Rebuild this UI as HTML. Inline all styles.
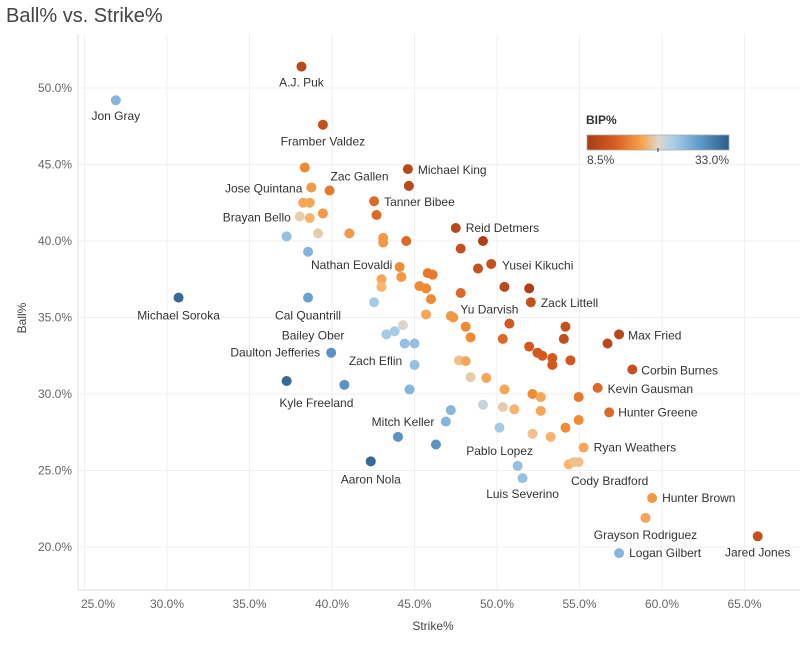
<!DOCTYPE html>
<html><head><meta charset="utf-8"><style>
body{margin:0;background:#fff;font-family:"Liberation Sans",sans-serif;}
svg text{font-family:"Liberation Sans",sans-serif;}
</style></head><body>
<svg id="chart" width="807" height="642">
<text x="6" y="22" font-size="20" fill="#444">Ball% vs. Strike%</text>
<g id="grid"></g><g id="axes"></g><g id="pts"></g><g id="lbls"></g>
<text x="433" y="630" font-size="12" fill="#444" text-anchor="middle">Strike%</text>
<text x="26" y="318" font-size="12" fill="#444" text-anchor="middle" transform="rotate(-90 26 318)">Ball%</text>
<g>
<defs><linearGradient id="lg" x1="0" x2="1"><stop offset="0" stop-color="#a83c17"/><stop offset="0.2" stop-color="#d85e1f"/><stop offset="0.38" stop-color="#f7a04a"/><stop offset="0.5" stop-color="#e0d6c8"/><stop offset="0.6" stop-color="#acd0e8"/><stop offset="0.8" stop-color="#5f98c9"/><stop offset="1" stop-color="#2b5c8a"/></linearGradient></defs>
<text x="586" y="124" font-size="12" font-weight="bold" fill="#333">BIP%</text>
<rect x="587" y="135" width="142" height="15" fill="url(#lg)" stroke="#aaa" stroke-width="0.8"/>
<line x1="658" y1="148" x2="658" y2="152" stroke="#333"/>
<text x="587" y="164" font-size="12" fill="#444">8.5%</text>
<text x="729" y="164" font-size="12" fill="#444" text-anchor="end">33.0%</text>
</g>
</svg>
<script>
const xTicks=[25,30,35,40,45,50,55,60,65];
const yTicks=[20,25,30,35,40,45,50];
const strike=[38.15,26.9,39.45,38.35,44.6,44.66,38.75,39.85,38.25,38.65,42.55,39.45,42.7,38.05,38.65,37.25,39.15,41.05,43.1,43.1,44.5,47.5,49.15,47.8,44.1,45.8,46.1,44.2,49.65,48.85,43.0,43.0,45.3,45.7,47.8,50.45,51.95,52.05,38.55,38.55,30.7,42.55,46.0,45.7,47.2,47.35,50.75,44.3,48.1,54.15,57.4,56.7,43.3,43.8,44.4,45.0,48.4,50.35,51.95,52.45,52.75,53.35,53.35,54.45,54.05,58.2,39.95,45.0,47.7,48.1,48.4,49.35,37.25,40.75,44.7,50.45,52.15,52.65,54.95,56.1,49.15,50.35,51.05,52.65,56.8,47.2,46.9,50.15,44.0,52.15,53.25,54.15,54.95,46.3,55.25,42.35,51.25,51.55,54.35,54.65,54.95,59.4,59.0,57.4,65.8];
const ball=[51.4,49.2,47.6,44.8,44.7,43.6,43.5,43.3,42.5,42.5,42.6,41.8,41.7,41.6,41.5,40.3,40.5,40.5,40.2,39.9,40.0,40.85,40.0,39.5,38.3,37.9,37.8,37.65,38.5,38.2,37.5,37.0,37.05,36.9,36.6,37.0,36.9,36.0,39.3,36.3,36.3,36.0,36.2,35.2,35.1,35.0,34.6,34.5,34.4,34.4,33.9,33.3,33.9,34.1,33.3,33.3,33.7,33.6,33.1,32.7,32.5,32.35,31.9,32.2,33.6,31.6,32.7,31.9,32.2,32.15,31.1,31.05,30.85,30.6,30.3,30.3,30.0,29.8,29.8,30.4,29.3,29.15,29.0,28.9,28.8,28.95,28.2,27.8,27.2,27.4,27.2,27.8,28.3,26.7,26.5,25.6,25.3,24.5,25.4,25.55,25.55,23.2,21.9,19.6,20.7];
const bip=[10,26,11,15,10,10,16,14,17,17,13,16,13,20,18,25,20,16,16,16,13,10,9,11,15,14,14,16,11,11,17,18,15,15,13,10,9,11,26,28,32,24,15,17,16,16,12,21,15,11,10,10,24,24,25,25,15,13,12,12,12,12,12,12,11,11,29,25,19,17,20,17,32,29,26,17,15,17,14,13,22,20,18,17,13,26,26,24,29,19,18,15,15,29,17,32,25,25,18,19,19,16,17,26,11];
const labelNames=["A.J. Puk","Jon Gray","Framber Valdez","Michael King","Jose Quintana","Zac Gallen","Tanner Bibee","Brayan Bello","Reid Detmers","Nathan Eovaldi","Yusei Kikuchi","Zack Littell","Michael Soroka","Cal Quantrill","Yu Darvish","Max Fried","Bailey Ober","Daulton Jefferies","Zach Eflin","Corbin Burnes","Kevin Gausman","Kyle Freeland","Hunter Greene","Mitch Keller","Pablo Lopez","Ryan Weathers","Aaron Nola","Luis Severino","Cody Bradford","Hunter Brown","Grayson Rodriguez","Logan Gilbert","Jared Jones"];
const labelPoint=[0,1,2,4,6,7,10,13,21,24,29,37,40,39,46,50,52,66,67,65,79,73,84,88,96,94,95,97,100,101,102,103,104];
// layout: [dx, dy, anchor]
const labelLayout=[[0,20,"middle"],[0,20,"middle"],[0,21,"middle"],[10,5,"start"],[-9,5,"end"],[30,-10,"middle"],[10,5,"start"],[-9,5,"end"],[10,4,"start"],[-48,2,"middle"],[24,1,"start"],[10,5,"start"],[0,22,"middle"],[0,22,"middle"],[-20,-10,"middle"],[9,5,"start"],[-42,5,"end"],[-11,4,"end"],[-39,0,"middle"],[9,5,"start"],[10,5,"start"],[-28,22,"middle"],[9,4,"start"],[5,-11,"middle"],[-18,-11,"middle"],[10,4,"start"],[0,22,"middle"],[0,20,"middle"],[31,23,"middle"],[10,4,"start"],[0,21,"middle"],[10,4,"start"],[0,20,"middle"]];
const NS="http://www.w3.org/2000/svg";
const X0=78,X1=800,Y0=34,Y1=590;
function xs(v){return 167+(v-30)*16.5;}
function ys(v){return 88+(50-v)*15.3;}
const stops=[[8.5,[168,60,23]],[12,[210,88,30]],[15,[240,138,51]],[18,[249,180,105]],[20.75,[221,213,200]],[23.5,[172,208,232]],[28,[106,160,207]],[33,[43,92,138]]];
function col(b){b=Math.max(8.5,Math.min(33,b));for(let i=0;i<stops.length-1;i++){const a=stops[i],c=stops[i+1];if(b<=c[0]){const t=(b-a[0])/(c[0]-a[0]);return "rgb("+a[1].map((v,k)=>Math.round(v+(c[1][k]-v)*t)).join(",")+")";}}return "rgb(43,92,138)";}
function mk(tag,attrs,parent){const e=document.createElementNS(NS,tag);for(const k in attrs)e.setAttribute(k,attrs[k]);document.getElementById(parent).appendChild(e);return e;}
xTicks.forEach(t=>{
 const l=mk("line",{x1:xs(t),x2:xs(t),y1:Y0,y2:Y1,stroke:"#f0f0f0"},"grid");
 
 
 const tx=mk("text",{x:Math.max(xs(t),98),y:608,"font-size":12,fill:"#666","text-anchor":"middle"},"axes");tx.textContent=t.toFixed(1)+"%";
 
 
});
yTicks.forEach(t=>{
 const l=mk("line",{x1:X0,x2:X1,y1:ys(t),y2:ys(t),stroke:"#f0f0f0"},"grid");
 
 
 const tx=mk("text",{x:72,y:ys(t)+4,"font-size":12,fill:"#666","text-anchor":"end"},"axes");tx.textContent=t.toFixed(1)+"%";
 
 
});
const ax=mk("line",{x1:X0,x2:X0,y1:Y0,y2:Y1,stroke:"#ddd"},"axes");


const bx=mk("line",{x1:X0,x2:X1,y1:Y1,y2:Y1,stroke:"#ddd"},"axes");


strike.forEach((s,i)=>{
 const c=mk("circle",{cx:xs(s),cy:ys(ball[i]),r:5,fill:col(bip[i])},"pts");
 
 
});
labelNames.forEach((n,j)=>{
 const i=labelPoint[j],L=labelLayout[j];
 const t=mk("text",{x:xs(strike[i])+L[0],y:ys(ball[i])+L[1],"font-size":12,fill:"#333","text-anchor":L[2]},"lbls");
 t.textContent=n;
 
 
});
</script>
</body></html>
